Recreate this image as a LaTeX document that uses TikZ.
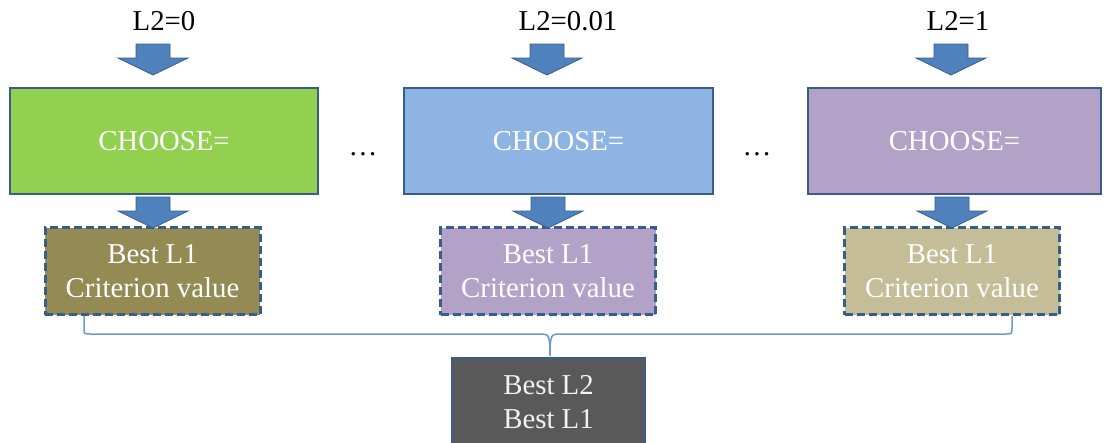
\documentclass[tikz,border=0pt]{standalone}
\usepackage{fontspec}
\setmainfont{Liberation Serif}
\definecolor{cgreen}{HTML}{92D050}
\definecolor{cblue}{HTML}{8EB4E3}
\definecolor{cpurple}{HTML}{B3A2C7}
\definecolor{colive}{HTML}{948A54}
\definecolor{ctan}{HTML}{C4BD97}
\definecolor{cgray}{HTML}{595959}
\definecolor{cborder}{HTML}{385D8A}
\definecolor{carrow}{HTML}{4F81BD}
\definecolor{cbrace}{HTML}{6A98D4}
\newcommand\bigfont{\fontsize{28.8}{33.5}\selectfont}
\newcommand\blkarrow[2]{% x centre, y top
  \fill[carrow, draw=cborder, line width=0.8pt]
    ({#1-17},#2) -- ({#1+17},#2) -- ({#1+17},{#2+14}) -- ({#1+35},{#2+14})
    -- (#1,{#2+31}) -- ({#1-35},{#2+14}) -- ({#1-17},{#2+14}) -- cycle;}
\tikzset{
  lbl/.style={font=\bigfont, inner sep=0pt},
  choosebox/.style={draw=cborder, line width=2.8pt, minimum height=106pt,
     inner sep=0pt, text=white, font=\bigfont},
  resbox/.style={draw=cborder, line width=3pt, dash pattern=on 8pt off 4pt,
     minimum height=87pt, minimum width=215pt, inner sep=0pt, text=white,
     font=\bigfont, align=center},
  finalbox/.style={draw=cborder, line width=2.8pt, fill=cgray, minimum height=88pt,
     minimum width=193pt, inner sep=0pt, text=white!95!black, font=\bigfont, align=center},
  brace/.style={draw=cbrace, line width=1.5pt}
}
\begin{document}
\begin{tikzpicture}[x=1pt,y=-1pt]
\useasboundingbox (0,0) rectangle (1106,442);
% top labels
\node[lbl] (l0) at (164,21) {L2=0};
\node[lbl] (l1) at (568,21) {L2=0.01};
\node[lbl] (l2) at (958,21) {L2=1};
% choose boxes
\node[choosebox, fill=cgreen, minimum width=308pt] (c0) at (164,141) {CHOOSE=};
\node[choosebox, fill=cblue, minimum width=309pt] (c1) at (558.5,141) {CHOOSE=};
\node[choosebox, fill=cpurple, minimum width=293pt] (c2) at (954.5,141) {CHOOSE=};
% ellipses
\node[lbl] (e0) at (363,154) {\dots};
\node[lbl] (e1) at (757,154) {\dots};
% result boxes
\node[resbox, fill=colive] (r0) at (152.5,271) {Best L1\\Criterion value};
\node[resbox, fill=cpurple] (r1) at (548,271) {Best L1\\Criterion value};
\node[resbox, fill=ctan] (r2) at (952,271) {Best L1\\Criterion value};
% final box
\node[finalbox] (f) at (548.5,402) {Best L2\\Best L1};
% block arrows
\blkarrow{153}{44}
\blkarrow{547}{44}
\blkarrow{951}{44}
\blkarrow{153}{197}
\blkarrow{548}{197}
\blkarrow{952}{197}
% brace
\draw[brace] (84,316) -- (84,328) .. controls (84,334) .. (90,334) -- (543,334)
  .. controls (549,334) and (550,338) .. (550,356)
  .. controls (550,338) and (551,334) .. (557,334) -- (1006,334)
  .. controls (1012,334) .. (1012,328) -- (1012,316);
\end{tikzpicture}
\end{document}
